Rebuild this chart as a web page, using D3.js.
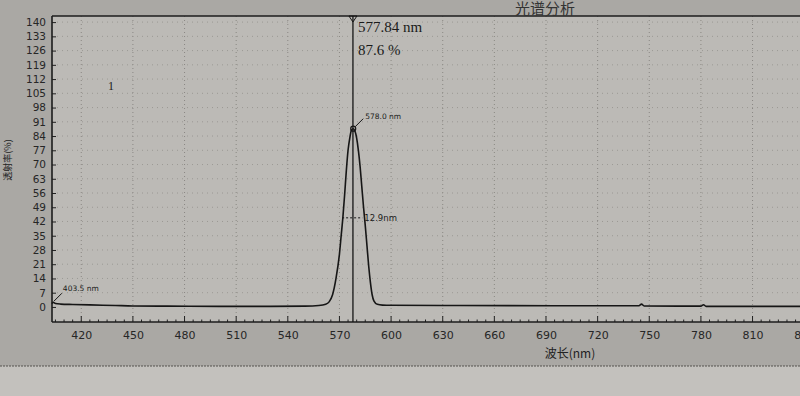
<!DOCTYPE html>
<html>
<head>
<meta charset="utf-8">
<script src="https://cdn.jsdelivr.net/npm/d3@7"></script>
<style>
  body { margin: 0; background: #c3c1bd; }
  svg { display: block; }
</style>
</head>
<body>
<div id="chart-area"></div>
<script>
// spectrum (wavelength nm, transmittance %)
const wavelengths = [403, 403.5, 405, 408, 415, 425, 440, 450, 470, 500, 530, 550, 558, 562, 564, 566, 568, 570, 571, 572, 573, 574, 575, 576, 577, 578, 579, 580, 581, 582, 583, 584, 585, 586, 587, 588, 589, 590, 592, 595, 600, 640, 700, 744, 745.5, 747, 780, 781.5, 783, 820, 855]
const transmit = [1.6, 2.3, 1.7, 1.4, 1.2, 1.0, 0.7, 0.5, 0.4, 0.3, 0.3, 0.4, 0.7, 1.3, 2.5, 6, 14, 26, 35, 44, 55, 67, 77, 83, 87, 87.6, 86.5, 83, 77, 69, 59, 49, 40, 30, 20, 12, 6, 3, 1.3, 0.9, 0.8, 0.7, 0.6, 0.6, 1.4, 0.5, 0.4, 1.1, 0.3, 0.3, 0.3]
const xTicks = [420, 450, 480, 510, 540, 570, 600, 630, 660, 690, 720, 750, 780, 810, 840]
const yTicks = [0, 7, 14, 21, 28, 35, 42, 49, 56, 63, 70, 77, 84, 91, 98, 105, 112, 119, 126, 133, 140]
const cursorNm = 577.84
const cursorPct = 87.6
const peakNm = 578.0
const startNm = 403.5
const fwhm = 12.9

const W = 800, H = 396
const LEFT = 52, TOP = 16, BOTTOM = 322

const svg = d3.select("#chart-area")
    .append("svg")
    .attr("width", W)
    .attr("height", H)

// paper background bands
svg.append("rect").attr("width", W).attr("height", H).attr("fill", "#c3c1bd")
svg.append("rect").attr("width", W).attr("height", 366).attr("fill", "#aaa8a4")
svg.append("rect").attr("x", LEFT).attr("y", TOP).attr("width", W - LEFT).attr("height", BOTTOM - TOP).attr("fill", "#bcbab6")
svg.append("line").attr("x1", 0).attr("x2", W).attr("y1", 366).attr("y2", 366)
    .attr("stroke", "#55534f").attr("stroke-width", 1.2).attr("stroke-dasharray", "2,1")

const x = d3.scaleLinear().domain([403, 855]).range([LEFT, 830])
const y = d3.scaleLinear().domain([-7.4, 143]).range([BOTTOM, TOP])

// dotted grid
svg.append("g").selectAll("line").data(xTicks).enter().append("line")
    .attr("x1", d => x(d)).attr("x2", d => x(d))
    .attr("y1", TOP).attr("y2", BOTTOM)
    .attr("stroke", "#7d7b76").attr("stroke-width", 0.8).attr("stroke-dasharray", "1,3")
svg.append("g").selectAll("line").data(yTicks.filter(d => d > 0)).enter().append("line")
    .attr("x1", LEFT).attr("x2", W)
    .attr("y1", d => y(d)).attr("y2", d => y(d))
    .attr("stroke", "#93918c").attr("stroke-width", 0.8).attr("stroke-dasharray", "1,4")

// axes
const xAxis = d3.axisBottom(x).tickValues(xTicks).tickSize(0).tickPadding(9)
svg.append("g")
    .attr("transform", `translate(0,${BOTTOM})`)
    .call(xAxis)
    .call(g => g.select(".domain").remove())
    .call(g => g.selectAll("text").attr("font-family", "DejaVu Sans").attr("font-size", 11).attr("fill", "#262626"))

const minor = d3.range(405, 855, 5)
svg.append("g").selectAll("line").data(minor).enter().append("line")
    .attr("x1", d => x(d)).attr("x2", d => x(d))
    .attr("y1", BOTTOM).attr("y2", d => xTicks.includes(d) ? BOTTOM - 6 : BOTTOM - 2.5)
    .attr("stroke", "#222").attr("stroke-width", 1)

const yAxis = d3.axisLeft(y).tickValues(yTicks).tickSize(-4).tickPadding(6)
svg.append("g")
    .attr("transform", `translate(${LEFT},0)`)
    .call(yAxis)
    .call(g => g.select(".domain").remove())
    .call(g => g.selectAll("line").attr("stroke", "#222"))
    .call(g => g.selectAll("text").attr("font-family", "DejaVu Sans").attr("font-size", 10.5).attr("fill", "#262626"))

svg.append("line").attr("x1", LEFT).attr("x2", LEFT).attr("y1", TOP).attr("y2", BOTTOM)
    .attr("stroke", "#1c1c1c").attr("stroke-width", 1.6)
svg.append("line").attr("x1", LEFT).attr("x2", W).attr("y1", BOTTOM).attr("y2", BOTTOM)
    .attr("stroke", "#1c1c1c").attr("stroke-width", 1.4)
svg.append("line").attr("x1", LEFT).attr("x2", W).attr("y1", TOP).attr("y2", TOP)
    .attr("stroke", "#1c1c1c").attr("stroke-width", 1.6)

// axis titles
svg.append("text")
    .attr("x", 570).attr("y", 358)
    .attr("text-anchor", "middle")
    .attr("font-family", "Noto Sans CJK SC").attr("font-size", 12).attr("fill", "#222")
    .text("波长(nm)")
svg.append("text")
    .attr("transform", "translate(11,160) rotate(-90)")
    .attr("text-anchor", "middle")
    .attr("font-family", "Noto Sans CJK SC").attr("font-size", 9).attr("fill", "#222")
    .text("透射率(%)")

svg.append("text")
    .attr("x", 545).attr("y", 14)
    .attr("text-anchor", "middle")
    .attr("font-family", "Noto Sans CJK SC").attr("font-size", 15).attr("fill", "#333")
    .text("光谱分析")

// curve
const pts = wavelengths.map((w, i) => [w, transmit[i]])
svg.append("path")
    .datum(pts)
    .attr("fill", "none")
    .attr("stroke", "#161616")
    .attr("stroke-width", 1.6)
    .attr("d", d3.line().x(d => x(d[0])).y(d => y(d[1])).curve(d3.curveMonotoneX))

// cursor
const cx = x(cursorNm)
svg.append("line").attr("x1", cx).attr("x2", cx).attr("y1", TOP).attr("y2", BOTTOM)
    .attr("stroke", "#161616").attr("stroke-width", 1.3)
svg.append("path")
    .attr("d", `M${cx - 4},${TOP} L${cx + 4},${TOP} L${cx},${TOP + 6} Z`)
    .attr("fill", "none").attr("stroke", "#161616")
svg.append("text").attr("x", cx + 5).attr("y", 32)
    .attr("font-family", "Liberation Serif").attr("font-size", 15).attr("fill", "#1a1a1a")
    .text(`${cursorNm} nm`)
svg.append("text").attr("x", cx + 5).attr("y", 55)
    .attr("font-family", "Liberation Serif").attr("font-size", 15).attr("fill", "#1a1a1a")
    .text(`${cursorPct} %`)

// curve number
svg.append("text").attr("x", 108).attr("y", 90)
    .attr("font-family", "Liberation Serif").attr("font-size", 12).attr("fill", "#1a1a1a")
    .text("1")

// peak marker
const px = x(peakNm), py = y(cursorPct)
svg.append("circle").attr("cx", px).attr("cy", py).attr("r", 2.5)
    .attr("fill", "none").attr("stroke", "#161616").attr("stroke-width", 1.2)
svg.append("line").attr("x1", px + 2).attr("y1", py - 2).attr("x2", px + 10).attr("y2", py - 10)
    .attr("stroke", "#161616")
svg.append("text").attr("x", px + 12).attr("y", py - 10)
    .attr("font-family", "DejaVu Sans").attr("font-size", 7.5).attr("fill", "#1a1a1a")
    .text(`${peakNm.toFixed(1)} nm`)

// start marker
const sx = x(startNm), sy = y(2.3)
svg.append("line").attr("x1", sx + 1).attr("y1", sy - 1).attr("x2", sx + 9).attr("y2", sy - 9)
    .attr("stroke", "#161616")
svg.append("text").attr("x", sx + 10).attr("y", sy - 11)
    .attr("font-family", "DejaVu Sans").attr("font-size", 7.5).attr("fill", "#1a1a1a")
    .text(`${startNm} nm`)

// FWHM marker
const hy = y(cursorPct / 2)
svg.append("line").attr("x1", x(peakNm - fwhm / 2)).attr("x2", x(peakNm + fwhm / 2) - 2).attr("y1", hy).attr("y2", hy)
    .attr("stroke", "#161616").attr("stroke-dasharray", "2,2")
svg.append("text").attr("x", x(peakNm + fwhm / 2)).attr("y", hy + 3)
    .attr("font-family", "DejaVu Sans").attr("font-size", 8.5).attr("fill", "#1a1a1a")
    .text(`${fwhm}nm`)
</script>
</body>
</html>
